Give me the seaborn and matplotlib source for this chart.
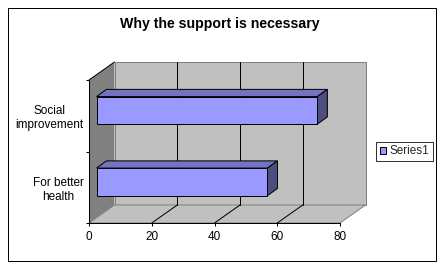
import matplotlib
matplotlib.use("Agg")
import matplotlib.pyplot as plt
import seaborn as sns
import pandas as pd
import numpy as np
from matplotlib.patches import Polygon, Rectangle
from matplotlib.lines import Line2D
from matplotlib.transforms import IdentityTransform, ScaledTranslation

# ---- data ----
categories = ["Social\nimprovement", "For better\nhealth"]
values = [70.4, 54.5]
series_name = "Series1"
x_ticks = [0, 20, 40, 60, 80]
title = "Why the support is necessary"

# ---- style ----
sns.set_theme(style="white")
plt.rcParams['font.family'] = ['Liberation Sans', 'DejaVu Sans']
FS = 8.5
PX = 0.72  # 1 px in points at dpi 100

FRONT = "#9999FF"
TOP = "#7373C0"
SIDE = "#4D4D80"
WALL = "#C0C0C0"
LWALL = "#808080"
EDGE = "#808080"

W, H = 440, 267
fig = plt.figure(figsize=(W / 100, H / 100), dpi=100)
fig.patch.set_facecolor("white")

# outer border
fig.patches.append(Rectangle((7.5 / W, 6.5 / H), 428 / W, 253 / H, transform=fig.transFigure,
                             fill=False, ec="black", lw=PX))

ax = fig.add_axes([89 / W, 44 / H, 251 / W, 143 / H])
ax.set_facecolor("none")

df = pd.DataFrame({"category": categories, "value": values})
sns.barplot(data=df, x="value", y="category", orient="h", color=FRONT, saturation=1,
            width=0.385, edgecolor="black", linewidth=PX, ax=ax, zorder=3)

ax.set_xlim(0, 80)
ax.set_ylim(1.5, -0.5)
ax.set_xlabel("")
ax.set_ylabel("")

# depth geometry (display pixels)
D = np.array([25.5, 18.0])        # full depth of the plot box
F = np.array([7.5, 5.4])          # bar front offset
B = np.array([10.0, 7.2])         # bar depth

I = IdentityTransform()


def poly(pts, **kw):
    p = Polygon(np.array(pts), closed=True, transform=I, clip_on=False, **kw)
    ax.add_patch(p)
    return p


def line(p0, p1, **kw):
    l = Line2D([p0[0], p1[0]], [p0[1], p1[1]], transform=I, clip_on=False, **kw)
    ax.add_line(l)


fig.canvas.draw()
FL = ax.transAxes.transform((0, 0))
FR = ax.transAxes.transform((1, 0))
FTL = ax.transAxes.transform((0, 1))
FTR = ax.transAxes.transform((1, 1))

# back wall
poly([FL + D, FR + D, FTR + D, FTL + D], fc=WALL, ec=EDGE, lw=PX, zorder=0.1)
# left wall
poly([FL, FL + D, FTL + D, FTL], fc=LWALL, ec="none", lw=0, zorder=0.2)
line(FTL, FTL + D, color="black", lw=PX, zorder=0.3)
# floor
poly([FL, FR, FR + D, FL + D], fc=WALL, ec=EDGE, lw=PX, zorder=0.3)

# gridlines
for t in x_ticks[1:-1]:
    p = ax.transData.transform((t, 1.5))
    line(p, p + D, color="black", lw=PX, zorder=0.6)
    q = ax.transData.transform((t, -0.5))
    line(p + D, q + D, color="black", lw=PX, zorder=0.6)

# 3D bars
off = ScaledTranslation(F[0] / 100, F[1] / 100, fig.dpi_scale_trans)
for bar in list(ax.patches):
    if not isinstance(bar, Rectangle) or bar.get_transform() is I:
        continue
    x0, y0 = bar.get_x(), bar.get_y()
    w, h = bar.get_width(), bar.get_height()
    a = ax.transData.transform((x0, y0))
    b = ax.transData.transform((x0 + w, y0 + h))
    L, R = min(a[0], b[0]), max(a[0], b[0])
    Bt, T = min(a[1], b[1]), max(a[1], b[1])
    bar.set_transform(ax.transData + off)
    bar.set_zorder(3)
    fl, fr = L + F[0], R + F[0]
    fb, ft = Bt + F[1], T + F[1]
    poly([(fl, ft), (fr, ft), (fr + B[0], ft + B[1]), (fl + B[0], ft + B[1])],
         fc=TOP, ec="black", lw=PX, zorder=2.5)
    poly([(fr, fb), (fr + B[0], fb + B[1]), (fr + B[0], ft + B[1]), (fr, ft)],
         fc=SIDE, ec="black", lw=PX, zorder=2.5)

# axes / ticks
for s in ["top", "right"]:
    ax.spines[s].set_visible(False)
for s in ["left", "bottom"]:
    ax.spines[s].set_visible(True)
    ax.spines[s].set_color("black")
    ax.spines[s].set_linewidth(PX)
    ax.spines[s].set_zorder(1)

ax.set_xticks(x_ticks)
ax.set_xticklabels([str(t) for t in x_ticks])
ax.tick_params(axis="x", which="major", direction="out", length=3 * PX, width=PX,
               color="black", labelsize=FS, labelcolor="black", pad=3.6, bottom=True)

ax.set_yticks([-0.5, 0.5, 1.5])
ax.set_yticklabels(["", "", ""])
ax.set_yticks([0, 1], minor=True)
ax.set_yticklabels(categories, minor=True)
ax.tick_params(axis="y", which="major", direction="out", length=3 * PX, width=PX,
               color="black", left=True)
ax.tick_params(axis="y", which="minor", length=0, labelsize=FS, labelcolor="black", pad=4.0,
               left=True)
for lbl in ax.get_yticklabels(minor=True):
    lbl.set_multialignment("center")
    lbl.set_linespacing(1.2)
ax.grid(False)

# title
fig.text(220 / W, (H - 24) / H, title, ha="center", va="center", fontsize=10.2,
         fontweight="bold", color="black")

# legend
handle = Rectangle((0, 0), 1, 1, fc=FRONT, ec="black", lw=PX)
leg = fig.legend([handle], [series_name], loc="center left",
                 bbox_to_anchor=(376 / W, (H - 151.5) / H), frameon=True, fancybox=False,
                 fontsize=FS, handlelength=0.55, handleheight=0.55, handletextpad=0.3,
                 borderpad=0.3, borderaxespad=0)
leg.get_frame().set_edgecolor("black")
leg.get_frame().set_linewidth(PX)

fig.savefig("out.png", dpi=100)
